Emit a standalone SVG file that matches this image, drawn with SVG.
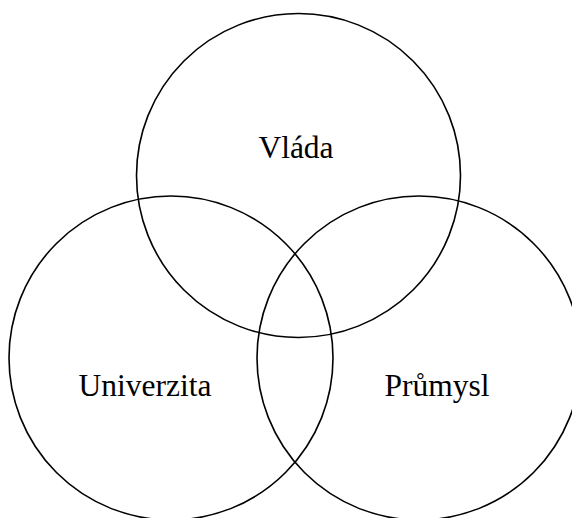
<svg xmlns="http://www.w3.org/2000/svg" width="572" height="518" viewBox="0 0 572 518">
<style>
.c{fill:none;stroke:#000;stroke-width:1.6}
.t{font-family:"Liberation Serif","Times New Roman",serif;font-size:31.5px;fill:#000;text-anchor:middle}
</style>
<rect width="572" height="518" fill="#fff"/>
<g id="vlada"><circle class="c" cx="298.5" cy="175.5" r="162"/><text class="t" x="296" y="158">Vláda</text></g>
<g id="univerzita"><circle class="c" cx="171" cy="358" r="162"/><text class="t" x="145" y="396">Univerzita</text></g>
<g id="prumysl"><circle class="c" cx="419" cy="358" r="162"/><text class="t" x="437" y="396">Průmysl</text></g>
<g id="connectors"/>
</svg>
